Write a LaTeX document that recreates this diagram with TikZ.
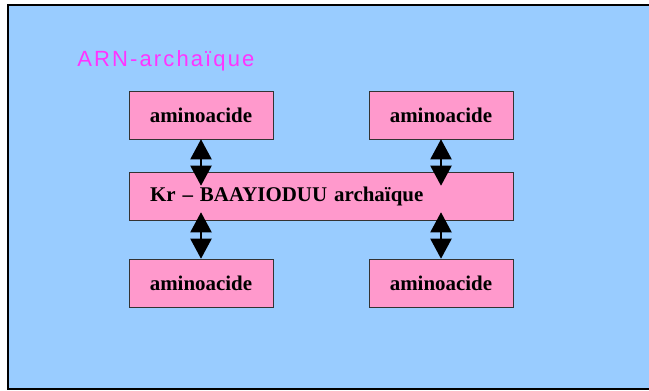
\documentclass[tikz,border=0pt]{standalone}
\usepackage{fontspec}
\setmainfont{Liberation Serif}
\newfontfamily\arnfont[LetterSpace=9.7]{Liberation Sans}
\usetikzlibrary{arrows.meta}
\definecolor{bgblue}{HTML}{99CCFF}
\definecolor{boxpink}{HTML}{FF99CC}
\definecolor{arnpink}{HTML}{FF33FF}

\begin{document}
\begin{tikzpicture}[x=0.75pt,y=-0.75pt,
    box/.style={draw=black!80,fill=boxpink,minimum width=108pt,minimum height=36pt,
      inner sep=0pt,font=\fontsize{15.7}{18}\selectfont\bfseries},
    link/.style={{Triangle[width=15.75pt,length=15pt]}-{Triangle[width=15.75pt,length=15pt]},
      line width=1.5pt}]
    \useasboundingbox (0,0) rectangle (649,391);
    % slide background
    \fill[bgblue] (8,5) rectangle (649,389);
    \draw[line width=1.5pt] (649,5) -- (8,5) -- (8,389) -- (649,389);
    \node[font=\fontsize{16.5}{19}\selectfont\arnfont, text=arnpink, anchor=base west, inner sep=0pt] (arn) at (77,67) {ARN-archaïque};
    % boxes
    \node[box] (tl) at (201,115) {aminoacide};
    \node[box] (tr) at (441,115) {aminoacide};
    \node[box, minimum width=288pt, text width=256.5pt, inner xsep=15.75pt, align=left] (mid) at (321,196) {Kr -- BAAYIODUU archaïque};
    \node[box] (bl) at (201,283) {aminoacide};
    \node[box] (br) at (441,283) {aminoacide};
    % links
    \draw[link, shorten >=-10.5pt] (tl.south) -- (tl.south |- mid.north);
    \draw[link, shorten >=-10.5pt] (tr.south) -- (tr.south |- mid.north);
    \draw[link, shorten <=-6pt] (bl.north |- mid.south) -- (bl.north);
    \draw[link, shorten <=-6pt] (br.north |- mid.south) -- (br.north);
\end{tikzpicture}
\end{document}
